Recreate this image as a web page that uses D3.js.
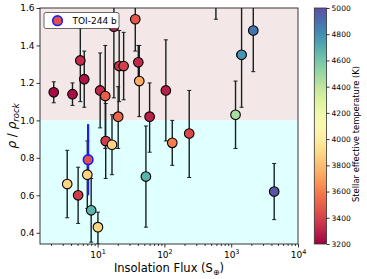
<!DOCTYPE html>
<html>
<head>
<meta charset="utf-8">
<script src="https://cdn.jsdelivr.net/npm/d3@7"></script>
<style>
  body { margin: 0; background: #fff; }
  svg text { font-family: "DejaVu Sans", sans-serif; fill: #000; }
</style>
</head>
<body>
<script>
// planets (flux in S_earth, density relative to rock, Teff of host)
var flux    = [2.2, 4.2, 5.5, 6.3, 10.9, 13.0, 17.5, 20.3, 21.0, 24.5, 36.6, 40.6, 42.0, 60.0, 105, 590, 1430, 2140, 1160, 235, 131, 52.8, 4400, 13.2, 16.4, 3.5, 5.1, 7.0, 8.0, 10.1];
var fluxErr = [0, 0, 0.7, 0, 1.2, 0, 0, 0, 0, 0, 0, 0, 0, 0, 14, 0, 220, 0, 0, 25, 0, 0, 0, 1.5, 0, 0, 0.7, 0, 0, 0];
var rho     = [1.15, 1.14, 1.32, 1.22, 1.16, 1.13, 1.50, 1.02, 1.29, 1.29, 1.54, 1.31, 1.21, 1.02, 1.16, 1.80, 1.35, 1.48, 1.03, 0.93, 0.88, 0.70, 0.62, 0.89, 0.87, 0.66, 0.60, 0.71, 0.52, 0.43];
var rhoLo   = [0.056, 0.06, 0.22, 0.15, 0.20, 0.28, 0.38, 0.17, 0.19, 0.18, 0.17, 0.09, 0.19, 0.19, 0.27, 0.26, 0.28, 0.22, 0.18, 0.235, 0.12, 0.27, 0.15, 0.20, 0.16, 0.18, 0.15, 0.18, 0.17, 0.09];
var rhoHi   = [0.056, 0.06, 0.17, 0.15, 0.20, 0.27, 0.38, 0.16, 0.19, 0.18, 0.17, 0.09, 0.19, 0.18, 0.27, 0.26, 0.28, 0.22, 0.18, 0.23, 0.12, 0.27, 0.15, 0.20, 0.16, 0.18, 0.15, 0.18, 0.17, 0.08];
var teff    = [3230, 3240, 3330, 3260, 3320, 3500, 3290, 3520, 3350, 3390, 3480, 3320, 3740, 3300, 3290, 3300, 4780, 4880, 4460, 3420, 3600, 4680, 4980, 3380, 3880, 3880, 3380, 3880, 4680, 3880];

// TOI-244 b
var toiName = "TOI-244 b";
var toiFlux = [7.2];
var toiRho = [0.79];
var toiErr = [0.19];
var toiTeff = [3450];

var xTicks = [10, 100, 1000, 10000];
var yTicks = [0.4, 0.6, 0.8, 1.0, 1.2, 1.4, 1.6];
var cbTicks = [3200, 3400, 3600, 3800, 4000, 4200, 4400, 4600, 4800, 5000];

var W = 367, H = 279;
var pL = 40, pR = 298, pT = 8, pB = 244;

var svg = d3.select("body").append("svg").attr("width", W).attr("height", H);

var x = d3.scaleLog().domain([1.37, 1e4]).range([pL, pR]);
var y = d3.scaleLinear().domain([0.34, 1.6]).range([pB, pT]);
var color = d3.scaleSequential(d3.interpolateSpectral).domain([3200, 5000]);

svg.append("clipPath").attr("id", "clip").append("rect")
    .attr("x", pL).attr("y", pT).attr("width", pR - pL).attr("height", pB - pT);

// background regions
svg.append("rect").attr("x", pL).attr("y", y(1.6)).attr("width", pR - pL)
    .attr("height", y(1.0) - y(1.6)).attr("fill", "#f4e7e7");
svg.append("rect").attr("x", pL).attr("y", y(1.0)).attr("width", pR - pL)
    .attr("height", y(0.34) - y(1.0)).attr("fill", "#e0ffff");

var plot = svg.append("g").attr("clip-path", "url(#clip)");

var ebColor = "#152020";
var cap = 2;

// error bars
for (var i = 0; i < flux.length; i++) {
    var cx = x(flux[i]), cy = y(rho[i]);
    var y1 = y(rho[i] + rhoHi[i]), y2 = y(rho[i] - rhoLo[i]);
    plot.append("line").attr("x1", cx).attr("x2", cx).attr("y1", y1).attr("y2", y2)
        .attr("stroke", ebColor).attr("stroke-width", 1.4);
    plot.append("line").attr("x1", cx - cap).attr("x2", cx + cap).attr("y1", y1).attr("y2", y1)
        .attr("stroke", ebColor).attr("stroke-width", 1);
    plot.append("line").attr("x1", cx - cap).attr("x2", cx + cap).attr("y1", y2).attr("y2", y2)
        .attr("stroke", ebColor).attr("stroke-width", 1);
    if (fluxErr[i] > 0) {
        var xa = x(flux[i] - fluxErr[i]), xb = x(flux[i] + fluxErr[i]);
        plot.append("line").attr("x1", xa).attr("x2", xb).attr("y1", cy).attr("y2", cy)
            .attr("stroke", ebColor).attr("stroke-width", 1.4);
        plot.append("line").attr("x1", xa).attr("x2", xa).attr("y1", cy - cap).attr("y2", cy + cap)
            .attr("stroke", ebColor).attr("stroke-width", 1);
        plot.append("line").attr("x1", xb).attr("x2", xb).attr("y1", cy - cap).attr("y2", cy + cap)
            .attr("stroke", ebColor).attr("stroke-width", 1);
    }
}

// TOI-244 b error bar
plot.append("line")
    .attr("x1", x(toiFlux[0])).attr("x2", x(toiFlux[0]))
    .attr("y1", y(toiRho[0] + toiErr[0])).attr("y2", y(toiRho[0] - toiErr[0]))
    .attr("stroke", "#1a1aff").attr("stroke-width", 2.2);

// points
plot.selectAll("circle.pl").data(d3.range(flux.length)).enter().append("circle")
    .attr("class", "pl")
    .attr("cx", function (i) { return x(flux[i]); })
    .attr("cy", function (i) { return y(rho[i]); })
    .attr("r", 4.8)
    .attr("fill", function (i) { return color(teff[i]); })
    .attr("stroke", "#000").attr("stroke-width", 1.1);

plot.append("circle").attr("cx", x(toiFlux[0])).attr("cy", y(toiRho[0])).attr("r", 4.8)
    .attr("fill", color(toiTeff[0])).attr("stroke", "#1a1aff").attr("stroke-width", 1.6);

// axes
var xAxis = svg.append("g").attr("transform", "translate(0," + pB + ")")
    .call(d3.axisBottom(x).tickValues(xTicks).tickSize(3.5).tickFormat(""));
var minor = [];
[1, 10, 100, 1000].forEach(function (d) {
    for (var k = 2; k <= 9; k++) if (d * k >= 1.37) minor.push(d * k);
});
svg.append("g").attr("transform", "translate(0," + pB + ")")
    .call(d3.axisBottom(x).tickValues(minor).tickSize(2).tickFormat(""))
    .call(function (g) { g.select(".domain").remove(); });

xAxis.selectAll(".tick").each(function (d) {
    var t = d3.select(this).append("text").attr("y", 13.5).attr("text-anchor", "middle")
        .attr("font-size", 9);
    t.append("tspan").text("10");
    t.append("tspan").attr("dy", -4).attr("font-size", 6.5).text(Math.round(Math.log10(d)));
});

var yAxis = svg.append("g").attr("transform", "translate(" + pL + ",0)")
    .call(d3.axisLeft(y).tickValues(yTicks).tickSize(3.5).tickFormat(d3.format(".1f")));
yAxis.selectAll("text").attr("font-size", 9).attr("x", -5.5);

svg.selectAll(".domain").attr("stroke", "none");
svg.selectAll(".tick line").attr("stroke", "#000").attr("stroke-width", 0.8);

// frame
svg.append("rect").attr("x", pL).attr("y", pT).attr("width", pR - pL).attr("height", pB - pT)
    .attr("fill", "none").attr("stroke", "#222").attr("stroke-width", 0.9);

// axis labels
svg.append("text").attr("x", (pL + pR) / 2).attr("y", 272).attr("text-anchor", "middle")
    .attr("font-size", 11.5)
    .call(function (t) {
        t.append("tspan").text("Insolation Flux (S");
        t.append("tspan").attr("dy", 2.5).attr("font-size", 8).text("\u2295");
        t.append("tspan").attr("dy", -2.5).text(")");
    });

svg.append("text").attr("transform", "translate(16," + ((pT + pB) / 2) + ") rotate(-90)")
    .attr("text-anchor", "middle").attr("font-size", 12)
    .call(function (t) {
        t.append("tspan").attr("font-style", "italic").text("\u03c1");
        t.append("tspan").text(" / ");
        t.append("tspan").attr("font-style", "italic").text("\u03c1");
        t.append("tspan").attr("font-style", "italic").attr("dy", 2.5).attr("font-size", 8.5).text("rock");
    });

// legend
var lg = svg.append("g");
lg.append("rect").attr("x", 44).attr("y", 12.5).attr("width", 75).attr("height", 16).attr("rx", 2)
    .attr("fill", "#fff").attr("stroke", "#444").attr("stroke-width", 0.8);
lg.append("circle").attr("cx", 57.5).attr("cy", 20.7).attr("r", 4.8)
    .attr("fill", color(toiTeff[0])).attr("stroke", "#1a1aff").attr("stroke-width", 1.6);
lg.append("text").attr("x", 72.5).attr("y", 24).attr("font-size", 9).text(toiName);

// colorbar
var cbX = 314.3, cbW = 12.3;
var cbScale = d3.scaleLinear().domain([3200, 5000]).range([pB, pT]);
var grad = svg.append("defs").append("linearGradient").attr("id", "cb")
    .attr("x1", 0).attr("y1", 1).attr("x2", 0).attr("y2", 0);
d3.range(0, 1.0001, 0.05).forEach(function (t) {
    grad.append("stop").attr("offset", t).attr("stop-color", d3.interpolateSpectral(t));
});
svg.append("rect").attr("x", cbX).attr("y", pT).attr("width", cbW).attr("height", pB - pT)
    .attr("fill", "url(#cb)").attr("stroke", "#333").attr("stroke-width", 0.8);
var cbAxis = svg.append("g").attr("transform", "translate(" + (cbX + cbW) + ",0)")
    .call(d3.axisRight(cbScale).tickValues(cbTicks).tickSize(3).tickFormat(d3.format("d")));
cbAxis.select(".domain").remove();
cbAxis.selectAll("text").attr("font-size", 7.5).attr("x", 5);
cbAxis.selectAll("line").attr("stroke", "#000").attr("stroke-width", 0.8);

svg.append("text").attr("transform", "translate(359," + ((pT + pB) / 2 + 8) + ") rotate(-90)")
    .attr("text-anchor", "middle").attr("font-size", 8.4).text("Stellar effective temperature (K)");
</script>
</body>
</html>
